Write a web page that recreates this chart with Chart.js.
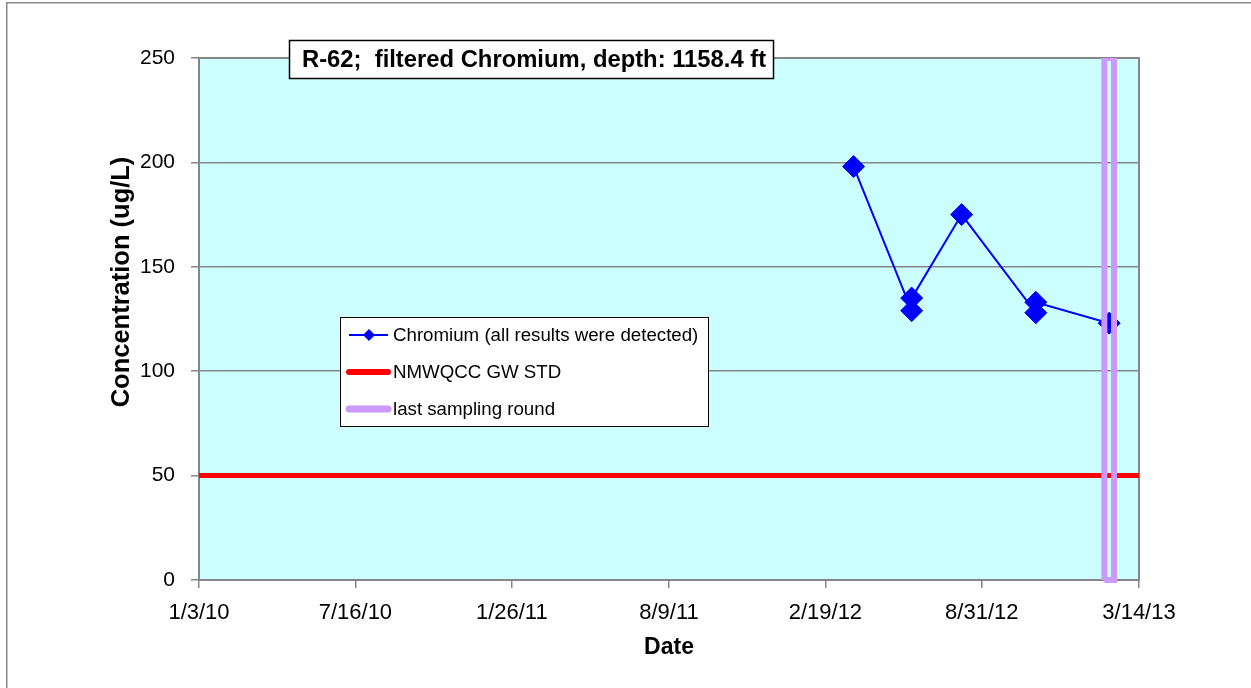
<!DOCTYPE html>
<html>
<head>
<meta charset="utf-8">
<title>R-62 filtered Chromium</title>
<script src="https://cdn.jsdelivr.net/npm/chart.js@4/dist/chart.umd.min.js"></script>
<style>
  html, body { margin: 0; padding: 0; background: #fff; }
  #wrap { width: 1251px; height: 688px; }
</style>
</head>
<body>
<div id="wrap"><canvas id="myChart" width="1251" height="688"></canvas></div>
<script>
// data
var sampleDates = ["2012-03-25", "2012-06-05", "2012-06-05", "2012-08-06", "2012-11-06", "2012-11-06", "2013-02-05"];
var chromium = [198, 129, 135, 175, 128, 133, 123];

var stdDates = ["2010-01-03", "2013-03-14"];
var stdValues = [50, 50];

var lastRoundDates = ["2013-01-30", "2013-01-30", "2013-02-11", "2013-02-11", "2013-01-30"];
var lastRoundValues = [0, 250, 250, 0, 0];

var tickDates = ["2010-01-03", "2010-07-16", "2011-01-26", "2011-08-09", "2012-02-19", "2012-08-31", "2013-03-14"];
var tickLabels = ["1/3/10", "7/16/10", "1/26/11", "8/9/11", "2/19/12", "8/31/12", "3/14/13"];
var yTicks = [0, 50, 100, 150, 200, 250];

var titleText = "R-62;  filtered Chromium, depth: 1158.4 ft";
var yTitle = "Concentration (ug/L)";
var xTitle = "Date";

// excel style day serial
function serial(d) {
  var p = d.split("-");
  return Date.UTC(+p[0], +p[1] - 1, +p[2]) / 86400000 + 25569;
}
function toPoints(dates, vals) {
  return dates.map(function (d, i) { return {x: serial(d), y: vals[i]}; });
}

var FONT = "'Liberation Sans', Arial, sans-serif";
Chart.defaults.font.family = FONT;
Chart.defaults.color = "#000";

var decor = {
  id: "decor",
  beforeDraw: function (chart) {
    var ctx = chart.ctx, a = chart.chartArea;
    ctx.save();
    ctx.fillStyle = "#fff";
    ctx.fillRect(0, 0, chart.width, chart.height);
    // outer frame
    ctx.strokeStyle = "#8a8a8a";
    ctx.lineWidth = 1.5;
    ctx.beginPath();
    ctx.moveTo(6.75, chart.height);
    ctx.lineTo(6.75, 2.75);
    ctx.lineTo(chart.width, 2.75);
    ctx.stroke();
    // plot background
    ctx.fillStyle = "#CCFFFF";
    ctx.fillRect(a.left, a.top, a.right - a.left, a.bottom - a.top);
    ctx.restore();
  },
  beforeDatasetsDraw: function (chart) {
    var ctx = chart.ctx, a = chart.chartArea;
    ctx.save();
    ctx.strokeStyle = "#868686";
    ctx.lineWidth = 2;
    ctx.strokeRect(a.left, a.top, a.right - a.left, a.bottom - a.top);
    ctx.restore();
  },
  afterDraw: function (chart) {
    var ctx = chart.ctx;
    ctx.save();

    // title box
    ctx.fillStyle = "#fff";
    ctx.fillRect(289, 40, 485, 39);
    ctx.strokeStyle = "#000";
    ctx.lineWidth = 1.5;
    ctx.strokeRect(289.5, 40.5, 484, 38);
    ctx.fillStyle = "#000";
    ctx.font = "bold 23.8px " + FONT;
    ctx.textBaseline = "middle";
    ctx.textAlign = "left";
    ctx.fillText(titleText, 302, 60);

    // y axis title
    ctx.save();
    ctx.translate(122, 282);
    ctx.rotate(-Math.PI / 2);
    ctx.textAlign = "center";
    ctx.font = "bold 25.5px " + FONT;
    ctx.fillText(yTitle, 0, 0);
    ctx.restore();

    // legend
    ctx.fillStyle = "#fff";
    ctx.fillRect(340, 317, 369, 110);
    ctx.strokeStyle = "#000";
    ctx.lineWidth = 1;
    ctx.strokeRect(340.5, 317.5, 368, 109);
    ctx.font = "18.7px " + FONT;
    chart.data.datasets.forEach(function (ds, i) {
      var y = 335 + i * 37;
      ctx.strokeStyle = ds.borderColor;
      ctx.lineWidth = ds.legendWidth;
      ctx.lineCap = ds.legendWidth > 3 ? "round" : "butt";
      ctx.beginPath();
      ctx.moveTo(349, y);
      ctx.lineTo(388, y);
      ctx.stroke();
      if (ds.pointStyle === "rectRot") {
        ctx.fillStyle = ds.backgroundColor;
        ctx.beginPath();
        ctx.moveTo(369 - 6, y);
        ctx.lineTo(369, y - 6);
        ctx.lineTo(369 + 6, y);
        ctx.lineTo(369, y + 6);
        ctx.closePath();
        ctx.fill();
      }
      ctx.fillStyle = "#000";
      ctx.fillText(ds.label, 393, y + 1);
    });
    ctx.restore();
  }
};

new Chart("myChart", {
  type: "line",
  data: {
    datasets: [{
      label: "Chromium (all results were detected)",
      data: toPoints(sampleDates, chromium),
      borderColor: "#0000FF",
      backgroundColor: "#0000FF",
      borderWidth: 2,
      pointStyle: "rectRot",
      pointRadius: 11,
      pointBorderWidth: 1,
      tension: 0,
      order: 2,
      legendWidth: 2
    }, {
      label: "NMWQCC GW STD",
      data: toPoints(stdDates, stdValues),
      borderColor: "#FF0000",
      backgroundColor: "#FF0000",
      borderWidth: 5,
      pointRadius: 0,
      order: 1,
      legendWidth: 6
    }, {
      label: "last sampling round",
      data: toPoints(lastRoundDates, lastRoundValues),
      borderColor: "#CC99FF",
      backgroundColor: "#CC99FF",
      borderWidth: 6,
      pointRadius: 0,
      clip: {left: 10, right: 10, top: 0, bottom: 10},
      order: 0,
      legendWidth: 7
    }]
  },
  options: {
    responsive: false,
    animation: false,
    layout: {padding: {left: 0, right: 112, top: 58, bottom: 0}},
    plugins: {
      legend: {display: false},
      tooltip: {enabled: false}
    },
    scales: {
      x: {
        type: "linear",
        min: serial(tickDates[0]),
        max: serial(tickDates[tickDates.length - 1]),
        afterBuildTicks: function (s) {
          s.ticks = tickDates.map(function (d) { return {value: serial(d)}; });
        },
        afterFit: function (s) { s.height = 108; },
        ticks: {
          autoSkip: false,
          maxRotation: 0,
          padding: 12,
          font: {size: 22},
          callback: function (v, i) { return tickLabels[i]; }
        },
        grid: {display: true, drawOnChartArea: false, tickLength: 8, color: "#868686", lineWidth: 1.5},
        border: {color: "#868686", width: 2},
        title: {display: true, text: xTitle, font: {size: 23, weight: "bold"}, padding: {top: 0, bottom: 27}}
      },
      y: {
        min: 0,
        max: 250,
        afterBuildTicks: function (s) {
          s.ticks = yTicks.map(function (v) { return {value: v}; });
        },
        afterFit: function (s) { s.width = 199; },
        ticks: {padding: 16, font: {size: 21}},
        grid: {color: "#868686", lineWidth: 1.5, tickLength: 8},
        border: {color: "#868686", width: 2}
      }
    }
  },
  plugins: [decor]
});
</script>
</body>
</html>
